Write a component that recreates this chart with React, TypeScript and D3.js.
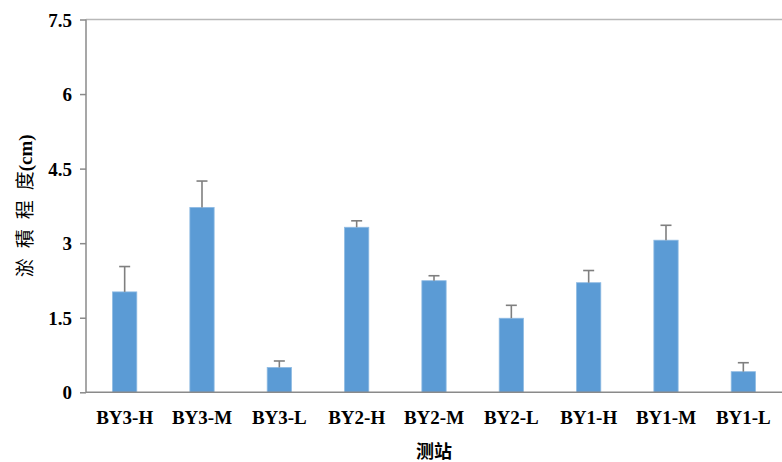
import React, { useEffect, useRef } from "react";
import * as d3 from "d3";

const categories = ["BY3-H", "BY3-M", "BY3-L", "BY2-H", "BY2-M", "BY2-L", "BY1-H", "BY1-M", "BY1-L"];
const means = [2.02, 3.72, 0.5, 3.32, 2.245, 1.49, 2.205, 3.06, 0.415];
const errors = [0.51, 0.53, 0.13, 0.13, 0.1, 0.26, 0.245, 0.3, 0.18];
const yTicks = [0, 1.5, 3, 4.5, 6, 7.5];
const yTitle = "淤積程度(cm)";
const xTitle = "测站";

const W = 782;
const H = 462;
const M = { left: 86, right: 782, top: 19.5, bottom: 392.3 };

export default function App() {
  const ref = useRef<SVGSVGElement>(null);
  useEffect(() => {
    const svg = d3.select(ref.current);
    svg.selectAll("*").remove();
    const x = d3.scaleBand<string>().domain(categories).range([M.left, M.right]).paddingInner(0.686).paddingOuter(0.343);
    const y = d3.scaleLinear().domain([0, 7.5]).range([M.bottom, M.top]);
    const serif = "'Liberation Serif', 'Times New Roman', 'Noto Sans CJK SC', serif";
    const cjk = "'Noto Sans CJK SC', sans-serif";

    // top border
    svg.append("line").attr("x1", M.left).attr("x2", M.right).attr("y1", y(7.5)).attr("y2", y(7.5))
      .attr("stroke", "#b8b8b8").attr("stroke-width", 1.5);

    // bars
    const data = categories.map((c, i) => ({ c, m: means[i], e: errors[i] }));
    svg.append("g").selectAll("rect").data(data).join("rect")
      .attr("x", d => x(d.c)!)
      .attr("width", x.bandwidth())
      .attr("y", d => y(d.m))
      .attr("height", d => y(0) - y(d.m))
      .attr("fill", "#5b9bd5")
      .attr("stroke", "#8fbbe3").attr("stroke-width", 0.8);

    // error bars
    const eg = svg.append("g").attr("stroke", "#7f7f7f").attr("stroke-width", 1.6);
    data.forEach(d => {
      const cx = x(d.c)! + x.bandwidth() / 2;
      eg.append("line").attr("x1", cx).attr("x2", cx).attr("y1", y(d.m)).attr("y2", y(d.m + d.e));
      eg.append("line").attr("x1", cx - 5.5).attr("x2", cx + 5.5).attr("y1", y(d.m + d.e)).attr("y2", y(d.m + d.e));
    });

    // y axis
    const ya = svg.append("g").attr("transform", `translate(${M.left},0)`)
      .call(d3.axisLeft(y).tickValues(yTicks).tickSize(6).tickPadding(8).tickFormat(d => String(d)));
    ya.select(".domain").attr("stroke", "#8a8a8a").attr("stroke-width", 1.5).attr("d", `M0,${M.top}V${M.bottom}`);
    ya.selectAll(".tick line").attr("stroke", "#8a8a8a").attr("stroke-width", 1.5);
    ya.selectAll(".tick text").attr("font-family", serif).attr("font-weight", "bold")
      .attr("font-size", 19).attr("fill", "#000").attr("dy", "0.35em");

    // x axis line
    svg.append("line").attr("x1", M.left).attr("x2", M.right).attr("y1", y(0)).attr("y2", y(0))
      .attr("stroke", "#8a8a8a").attr("stroke-width", 1.5);

    // x labels
    svg.append("g").selectAll("text").data(categories).join("text")
      .attr("x", d => x(d)! + x.bandwidth() / 2)
      .attr("y", 424)
      .attr("text-anchor", "middle")
      .attr("font-family", serif).attr("font-weight", "bold").attr("font-size", 19)
      .text(d => d);

    // x title
    svg.append("text").attr("x", (M.left + M.right) / 2).attr("y", 458)
      .attr("text-anchor", "middle").attr("font-family", cjk).attr("font-weight", "bold")
      .attr("font-size", 18).text(xTitle);

    // y title
    const parts = [
      { t: yTitle.slice(0, 3), f: cjk, w: "normal", ls: 10 },
      { t: yTitle.slice(3, 4), f: cjk, w: "normal", ls: 0 },
      { t: yTitle.slice(4), f: serif, w: "bold", ls: 0 },
    ];
    svg.append("text").attr("transform", `translate(32,${(M.top + M.bottom) / 2}) rotate(-90)`)
      .attr("text-anchor", "middle").attr("font-size", 19)
      .selectAll("tspan").data(parts).join("tspan")
      .attr("font-family", d => d.f)
      .attr("font-weight", d => d.w)
      .attr("letter-spacing", d => d.ls)
      .text(d => d.t);
  }, []);
  return (
    <svg ref={ref} width={W} height={H} style={{ position: "absolute", left: 0, top: 0, background: "#fff" }} />
  );
}
